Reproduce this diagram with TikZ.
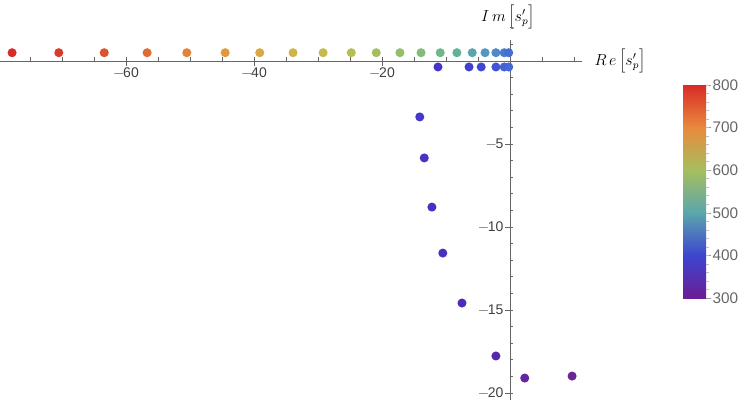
\documentclass[tikz,border=0pt]{standalone}
\usepackage{fontspec}
\setsansfont{Liberation Sans}
\begin{document}
\begin{tikzpicture}[x=0.75pt,y=-0.75pt,font=\sffamily\fontsize{10.5}{12}\selectfont]
	\tikzset{axis/.style={line width=0.6pt,draw=black!60},
		ticklabel/.style={text=black!75,inner sep=1pt}}
	\useasboundingbox (0,0) rectangle (747,400);
	
	% axes
	\draw[axis] (0,61) -- (582,61);
	\draw[axis] (510,40) -- (510,400);
	\node[inner sep=1pt,font=\fontsize{11.5}{12}\selectfont] at (620,61) {$R\,e\left[s'_p\right]$};
	\node[inner sep=1pt,font=\fontsize{11.5}{12}\selectfont] at (508,17) {$I\,m\left[s'_p\right]$};
	
	\foreach \t in {-75,-70,...,10}
		\draw[axis] ({510+6.4*\t},61) -- ({510+6.4*\t},57);
	\foreach \t in {-60,-40,-20}{
		\draw[axis] ({510+6.4*\t},61) -- ({510+6.4*\t},66);
		\node[ticklabel,below] at ({510+6.4*\t},66) {$-$\kern-1pt\the\numexpr-\t\relax};
	}
	\foreach \t in {-20,...,2}
		\draw[axis] (510,{61-16.6*\t}) -- (513,{61-16.6*\t});
	\foreach \t in {5,10,15,20}{
		\draw[axis] (510,{61+16.6*\t}) -- (505,{61+16.6*\t});
		\node[ticklabel,left] at (505,{61+16.6*\t}) {$-$\kern-1pt\t};
	}
	
	% points
	\begin{scope}[shift={(510,61)},x=4.8pt,y=12.45pt]
	\foreach \re/\col in {-77.8/D72B27,-70.5/D93A2A,-63.4/DD5430,-56.7/E26A35,-50.5/E5813A,
		-44.5/E3983E,-39.1/DBA843,-33.9/D0B448,-29.2/C5BA4D,-24.8/B6BD55,-20.9/A6BE5F,
		-17.2/94BE69,-13.9/82BC76,-10.9/70B887,-8.3/64B19A,-5.9/5AA6AC,-3.9/5498BD,
		-2.2/4E8ACA,-0.9/487AD2,-0.2/4470D5}{
		\definecolor{dotcol}{HTML}{\col}
		\fill[dotcol] (\re,0.5) circle (3.4pt);
	}
	\foreach \re/\im/\col in {-11.25/-0.36/4536C8,-6.4/-0.36/423FCE,-4.5/-0.36/4046D2,
		-2.2/-0.36/4055D5,-0.9/-0.36/4262D6,-0.2/-0.36/4469D6,
		-14.1/-3.37/4638C8,-13.4/-5.84/4733C5,-12.2/-8.8/4830C3,-10.5/-11.57/4A2EC0,
		-7.5/-14.58/4E2BB9,-2.2/-17.77/5727AD,2.3/-19.1/6226A0,9.7/-18.98/6B2696}{
		\definecolor{dotcol}{HTML}{\col}
		\fill[dotcol] (\re,\im) circle (3.4pt);
	}
	\end{scope}
	
	% colour bar
	\foreach \i/\ca/\cb in {0/D92B26/E88A3D,1/E88A3D/A6BE5F,2/A6BE5F/5AA6AC,3/5AA6AC/3D45D0,4/3D45D0/6A1E94}{
		\definecolor{barA}{HTML}{\ca}
		\definecolor{barB}{HTML}{\cb}
		\shade[top color=barA,bottom color=barB] (683,{85+42.6*\i}) rectangle (706,{85+42.6*(\i+1)});
	}
	\foreach \v [count=\i from 0] in {800,700,600,500,400,300}{
		\draw[black!40] (706,{85+42.6*\i}) -- (711,{85+42.6*\i});
		\node[ticklabel,right,text=black!60,font=\sffamily\fontsize{11.5}{12}\selectfont] at (711,{85+42.6*\i}) {\v};
	}
	\foreach \i in {0,...,24}
		\draw[black!25] (706,{85+8.52*\i}) -- (708.5,{85+8.52*\i});
\end{tikzpicture}
\end{document}
